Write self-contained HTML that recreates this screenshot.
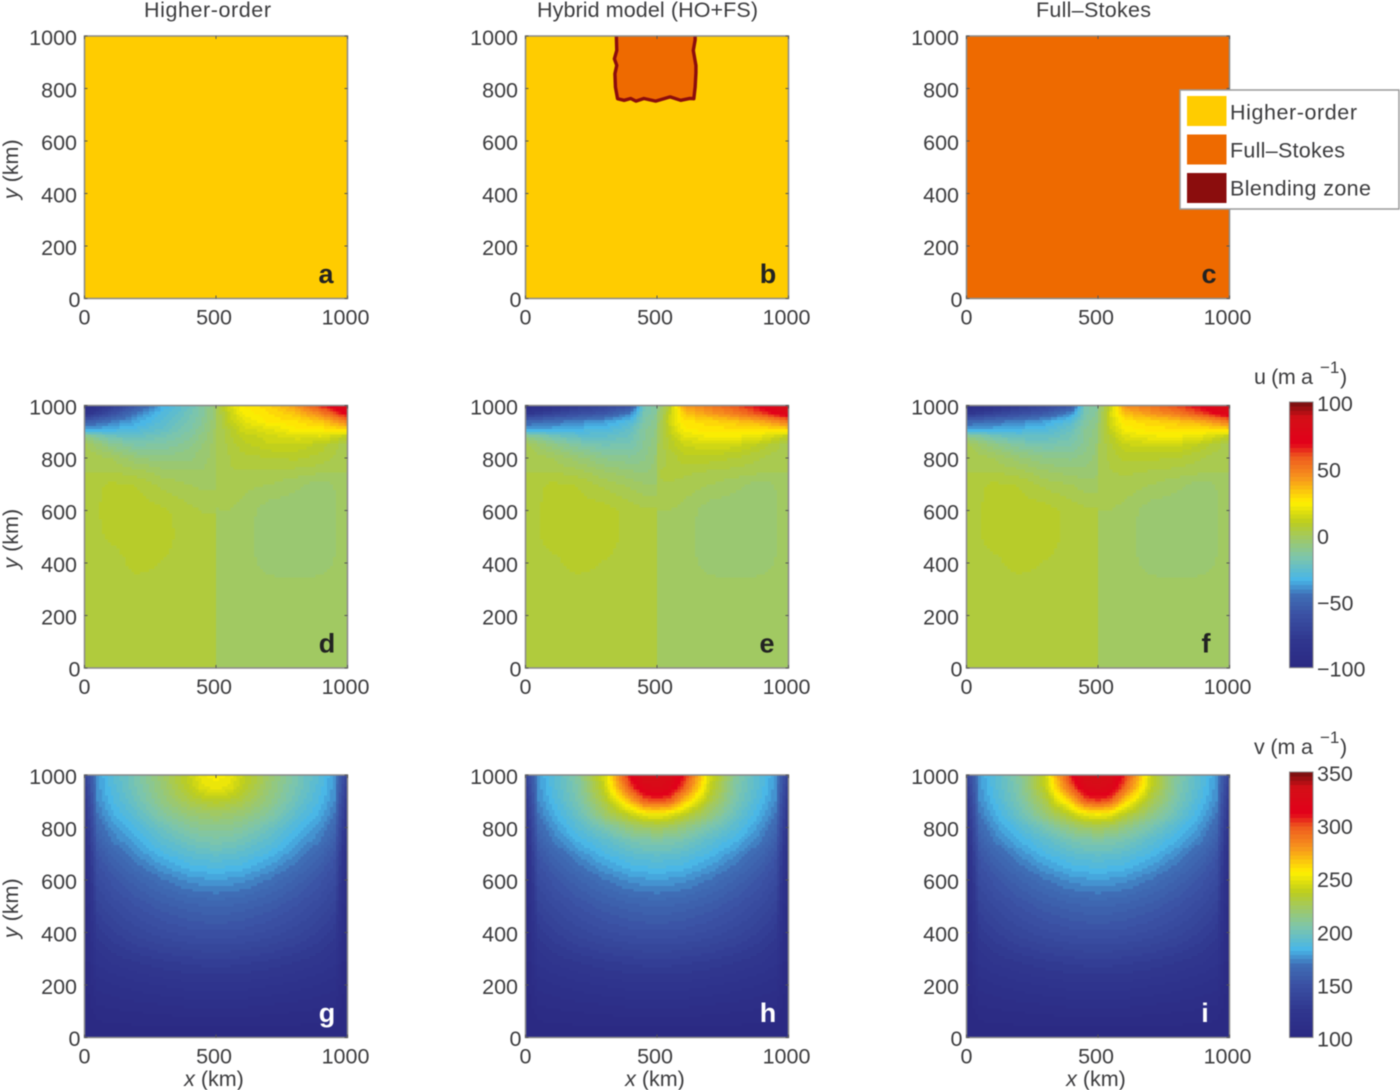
<!DOCTYPE html>
<html lang="en">
<head>
<meta charset="utf-8">
<title>Ice flow model comparison</title>
<style>
html,body{margin:0;padding:0;background:#fff;width:1400px;height:1090px;overflow:hidden}
svg{display:block;filter:blur(0.45px)}
text{font-family:"Liberation Sans",sans-serif;font-size:21.5px;fill:#3c3c3e}
</style>
</head>
<body>
<svg id="chart" xmlns="http://www.w3.org/2000/svg" width="1400" height="1090" viewBox="0 0 1400 1090"></svg>
<script>
/* ---------- axis data ---------- */
const xTicks = [0, 500, 1000];
const yTicks = [0, 200, 400, 600, 800, 1000];
const columnTitles = ["Higher-order", "Hybrid model (HO+FS)", "Full\u2013Stokes"];
const panelLetters = ["a", "b", "c", "d", "e", "f", "g", "h", "i"];
const uBarTicks = [100, 50, 0, -50, -100];
const vBarTicks = [350, 300, 250, 200, 150, 100];
const legendLabels = ["Higher-order", "Full\u2013Stokes", "Blending zone"];

/* ---------- colormap stops (position, colour) ---------- */
const cmapPositions = [0, 0.1, 0.2, 0.27, 0.33, 0.42, 0.5, 0.55, 0.625, 0.72, 0.8, 0.85, 0.95, 1];
const cmapColors = ["#2b2a83", "#30378f", "#3b52a4", "#3f6db5", "#48b6e8", "#7fc6a8", "#a5c95a", "#bccd1e", "#fff000", "#f7941d", "#ee5a1e", "#e2001a", "#d40f17", "#7f0f10"];

/* ---------- model-domain maps (km) ---------- */
const hybridFsBoundaryX = [345, 347, 338, 347, 340, 342, 350, 375, 400, 420, 450, 495, 550, 590, 625, 640, 645, 648, 648, 638, 645, 645];
const hybridFsBoundaryY = [1015, 945, 913, 888, 856, 805, 761, 755, 762, 752, 762, 752, 768, 755, 762, 761, 805, 860, 888, 945, 985, 1015];

/* ---------- u field grid (m/a) ---------- */
const uGridX = [0, 100, 200, 300, 400, 450, 495, 505, 550, 600, 700, 800, 900, 1000];
const uGridY = [1000, 970, 940, 910, 880, 850, 800, 750, 700, 600, 500, 400, 300, 200, 100, 0];
const uLowerRows = [
  [4,4,4,4,4,4,4,0,0,-1,-1,-1,-1,-1],
  [4,4,4,4,4,4,4,0,0,-1,-1,-1,-1,-1],
  [4,4,4,4,4,4,4,0,0,-1,-1,-1,-1,-1]
];
const uHigherOrder = [
  [-95,-78,-55,-34,-22,-14,-5,0,15,25,30,42,65,85],
  [-85,-62,-42,-30,-20,-13,-5,0,12,22,28,33,48,72],
  [-55,-44,-36,-27,-18,-12,-4,0,10,18,26,28,33,50],
  [-36,-34,-30,-24,-16,-10,-3,0,6,14,18,24,26,30],
  [-7,-20,-22,-19,-13,-8,-3,0,5,10,14,17,18,8],
  [1,-10,-16,-15,-10,-6,-2,0,4,8,12,12,8,1],
  [3,0,-6,-8,-7,-4,-2,1,3,5,6,7,5,0],
  [3,3,1,-2,-3,-3,-2,2,3,3,3,2,1,0],
  [4,7,6,2,0,-1,-1,0,2,1,0,-2,-5,-1],
  [4,8,8,7,4,3,3,0,0,-1,-5,-6,-6,-1],
  [4,7,8,8,4,4,4,0,0,-1,-6,-6,-6,-1],
  [4,4,8,6,4,4,4,0,0,-1,-5,-6,-5,-1],
  [4,4,4,4,4,4,4,0,0,-1,-1,-1,-1,-1]
];
const uHybrid = [
  [-95,-88,-78,-70,-60,-20,-14,-8,8,42,50,60,72,88],
  [-80,-70,-62,-56,-42,-18,-13,-6,12,32,42,50,62,78],
  [-50,-46,-42,-38,-30,-16,-11,-4,14,27,30,34,40,52],
  [-36,-35,-33,-31,-24,-13,-9,-2,12,24,27,27,27,30],
  [-8,-18,-24,-25,-21,-13,-8,-1,9,18,22,22,18,8],
  [1,-8,-15,-19,-18,-12,-7,0,7,13,15,14,8,1],
  [3,0,-5,-10,-12,-10,-6,1,4,8,8,6,3,0],
  [3,3,1,-3,-6,-7,-5,3,4,4,3,2,1,0],
  [4,7,6,2,-1,-3,-3,3,3,2,0,-2,-5,-1],
  [4,8,8,8,5,4,4,0,0,-1,-5,-6,-6,-1],
  [4,8,8,8,5,4,4,0,0,-1,-6,-6,-6,-1],
  [4,5,8,6,5,4,4,0,0,-1,-5,-6,-5,-1],
  [4,4,4,4,4,4,4,0,0,-1,-1,-1,-1,-1]
];
const uFullStokes = [
  [-95,-88,-78,-68,-56,-18,-13,-6,12,45,52,61,72,88],
  [-80,-70,-62,-54,-40,-17,-12,-5,16,34,43,50,62,78],
  [-50,-46,-42,-37,-28,-15,-10,-4,15,27,30,34,40,52],
  [-36,-35,-33,-30,-22,-12,-8,-2,12,23,27,27,27,30],
  [-8,-18,-24,-24,-19,-12,-7,-1,8,17,21,22,18,8],
  [1,-8,-15,-18,-16,-11,-6,0,6,12,14,14,8,1],
  [3,0,-5,-9,-10,-8,-5,1,4,7,7,6,3,0],
  [3,3,1,-3,-5,-5,-4,2,3,4,3,2,1,0],
  [4,7,6,2,0,-2,-2,2,2,2,0,-2,-5,-1],
  [4,8,8,8,5,4,4,0,0,-1,-5,-6,-6,-1],
  [4,8,8,8,5,4,4,0,0,-1,-6,-6,-6,-1],
  [4,5,8,6,5,4,4,0,0,-1,-5,-6,-5,-1],
  [4,4,4,4,4,4,4,0,0,-1,-1,-1,-1,-1]
];

/* ---------- v field grid (m/a) ---------- */
const vGridX = [0, 50, 100, 200, 300, 400, 450, 500, 550, 600, 700, 800, 900, 950, 1000];
const vGridY = [1000, 950, 900, 850, 800, 750, 700, 600, 500, 400, 300, 200, 100, 0];
const vLowerRows = [
  [110,153,163,175,185,192,194,195,194,192,185,175,163,153,110],
  [106,145,152,162,170,176,177,178,177,176,170,162,152,145,106],
  [104,137,143,151,157,161,162,163,162,161,157,151,143,137,104],
  [103,129,134,141,146,149,150,150,150,149,146,141,134,129,103],
  [102,121,125,129,132,134,135,135,135,134,132,129,125,121,102],
  [101,113,115,118,120,122,122,122,122,122,120,118,115,113,101],
  [100,106,107,108,109,110,110,110,110,110,109,108,107,106,100],
  [100,100,100,100,100,100,100,100,100,100,100,100,100,100,100]
];
const vHigherOrder = [
  [135,178,188,204,221,240,252,255,252,240,221,204,188,178,135],
  [130,176,187,202,219,237,247,250,247,237,219,202,187,176,130],
  [125,174,184,199,215,228,232,235,232,228,215,199,184,174,125],
  [120,170,180,193,208,218,220,222,220,218,208,193,180,170,120],
  [116,165,175,187,199,208,211,212,211,208,199,187,175,165,116],
  [113,160,170,181,192,200,203,204,203,200,192,181,170,160,113]
];
const vHybrid = [
  [135,178,188,208,245,315,335,335,330,312,245,208,188,178,135],
  [130,176,187,206,240,300,322,326,322,298,240,206,187,176,130],
  [125,174,184,203,230,270,295,300,295,268,230,203,184,174,125],
  [120,170,180,197,220,240,250,252,248,238,218,197,180,170,120],
  [116,165,175,190,203,218,222,224,222,216,203,190,175,165,116],
  [113,160,170,183,192,202,205,206,205,202,192,183,170,160,113]
];
const vFullStokes = [
  [135,178,188,208,242,312,335,337,332,308,242,208,188,178,135],
  [130,176,187,206,238,296,323,328,323,294,238,206,187,176,130],
  [125,174,184,203,228,266,295,302,295,264,228,203,184,174,125],
  [120,170,180,197,218,238,250,253,249,236,216,197,180,170,120],
  [116,165,175,189,202,217,222,224,222,215,202,189,175,165,116],
  [113,160,170,182,192,202,205,206,205,202,192,182,170,160,113]
];

/* ---------- layout ---------- */
const NS = "http://www.w3.org/2000/svg";
const svg = document.getElementById("chart");
const colLeft = [84.5, 525.5, 966.5];
const rowTop = [36, 405.5, 775];
const panelW = 263, panelH = 262.5;
const ORANGE = "#ee6a00", YELLOW = "#ffcc00", DARKRED = "#8b0d0d";
const letterCenterX = [326, 768, 1209, 327, 767, 1206, 327, 768, 1205];

function xAxis(col, km) { return colLeft[col] + km / 1000 * panelW; }
function yAxis(row, km) { return rowTop[row] + panelH - km / 1000 * panelH; }
function hex(c) { return [1, 3, 5].map(i => parseInt(c.substr(i, 2), 16)); }
function colormap(t) {
  t = Math.max(0, Math.min(1, t));
  t = Math.floor(t * 63.999) / 63;
  let i = 0;
  while (i < cmapPositions.length - 2 && t > cmapPositions[i + 1]) i++;
  const f = (t - cmapPositions[i]) / (cmapPositions[i + 1] - cmapPositions[i]);
  const a = hex(cmapColors[i]), b = hex(cmapColors[i + 1]);
  return "rgb(" + a.map((v, k) => Math.round(v + (b[k] - v) * Math.min(1, f))).join(",") + ")";
}
function segment(grid, v) {
  /* grid may be ascending or descending */
  let i = 0;
  const asc = grid[0] < grid[grid.length - 1];
  while (i < grid.length - 2 && (asc ? v > grid[i + 1] : v < grid[i + 1])) i++;
  return [i, (v - grid[i]) / (grid[i + 1] - grid[i])];
}
function sampleField(field, gridX, gridY, x, y) {
  const [c, fx] = segment(gridX, x);
  const [r, fy] = segment(gridY, y);
  const top = field[r][c] + (field[r][c + 1] - field[r][c]) * fx;
  const bot = field[r + 1][c] + (field[r + 1][c + 1] - field[r + 1][c]) * fx;
  return top + (bot - top) * fy;
}
function makeGroup(parent) {
  const g = document.createElementNS(NS, "g");
  parent.appendChild(g);
  return g;
}
function makeRect(parent, x, y, w, h, fill) {
  const r = document.createElementNS(NS, "rect");
  r.setAttribute("x", x);
  r.setAttribute("y", y);
  r.setAttribute("width", w);
  r.setAttribute("height", h);
  r.setAttribute("fill", fill);
  parent.appendChild(r);
  return r;
}
function makeText(parent, x, y, str, anchor) {
  const t = document.createElementNS(NS, "text");
  t.setAttribute("x", x);
  t.setAttribute("y", y);
  t.setAttribute("text-anchor", anchor || "start");
  t.textContent = str;
  parent.appendChild(t);
  return t;
}
function makeLine(parent, x1, y1, x2, y2, color, w) {
  const l = document.createElementNS(NS, "line");
  l.setAttribute("x1", x1);
  l.setAttribute("y1", y1);
  l.setAttribute("x2", x2);
  l.setAttribute("y2", y2);
  l.setAttribute("stroke", color);
  l.setAttribute("stroke-width", w);
  parent.appendChild(l);
  return l;
}
function fmt(v) { return String(v).replace("-", "\u2212"); }

/* ---------- heatmaps ---------- */
const CELLS = 90;
function drawHeatmap(row, col, field, gridX, gridY, lo, hi) {
  const g = makeGroup(svg);
  
  
  g.setAttribute("shape-rendering", "crispEdges");
  for (let j = 0; j < CELLS; j++) {
    for (let i = 0; i < CELLS; i++) {
      const kmX = (i + 0.5) / CELLS * 1000, kmY = 1000 - (j + 0.5) / CELLS * 1000;
      const value = sampleField(field, gridX, gridY, kmX, kmY);
      const x0 = xAxis(col, i / CELLS * 1000), x1 = xAxis(col, (i + 1) / CELLS * 1000);
      const y0 = yAxis(row, 1000 - j / CELLS * 1000), y1 = yAxis(row, 1000 - (j + 1) / CELLS * 1000);
      const cell = makeRect(g, x0, y0, x1 - x0 + 0.4, y1 - y0 + 0.4, colormap((value - lo) / (hi - lo)));
      
      
    }
  }
}
const uFields = [uHigherOrder, uHybrid, uFullStokes];
const vFields = [vHigherOrder, vHybrid, vFullStokes];
uFields.forEach((f, col) => drawHeatmap(1, col, f.concat(uLowerRows), uGridX, uGridY, -100, 100));
vFields.forEach((f, col) => drawHeatmap(2, col, f.concat(vLowerRows), vGridX, vGridY, 100, 350));

/* ---------- model domain panels ---------- */
const domainA = makeRect(svg, xAxis(0, 0), yAxis(0, 1000), panelW, panelH, YELLOW);


const domainB = makeRect(svg, xAxis(1, 0), yAxis(0, 1000), panelW, panelH, YELLOW);


const domainC = makeRect(svg, xAxis(2, 0), yAxis(0, 1000), panelW, panelH, ORANGE);


const clip = document.createElementNS(NS, "clipPath");
clip.setAttribute("id", "panel-b-clip");
makeRect(clip, xAxis(1, 0), yAxis(0, 1000), panelW, panelH, "#000");
svg.appendChild(clip);
const fsPatch = document.createElementNS(NS, "polygon");
fsPatch.setAttribute("points", hybridFsBoundaryX.map((x, i) => xAxis(1, x) + "," + yAxis(0, hybridFsBoundaryY[i])).join(" "));
fsPatch.setAttribute("fill", ORANGE);
fsPatch.setAttribute("stroke", DARKRED);
fsPatch.setAttribute("stroke-width", "3.4");
fsPatch.setAttribute("stroke-linejoin", "round");
fsPatch.setAttribute("clip-path", "url(#panel-b-clip)");


svg.appendChild(fsPatch);

/* ---------- axes ---------- */
for (let row = 0; row < 3; row++) {
  for (let col = 0; col < 3; col++) {
    const letter = panelLetters[row * 3 + col];
    const ax = makeGroup(svg);
    
    
    const frame = makeRect(ax, colLeft[col], rowTop[row], panelW, panelH, "none");
    frame.setAttribute("stroke", "#8a8a8a");
    frame.setAttribute("stroke-width", "1.5");
    
    
    xTicks.forEach(v => {
      const px = xAxis(col, v);
      const tickLow = makeLine(ax, px, rowTop[row] + panelH, px, rowTop[row] + panelH - 3, "#555", 1);
      
      
      const tickHigh = makeLine(ax, px, rowTop[row], px, rowTop[row] + 3, "#555", 1);
      
      
      const off = v === 0 ? 0 : -2;
      const lab = makeText(ax, px + off, rowTop[row] + panelH + 26, fmt(v), "middle");
      
      
    });
    yTicks.forEach(v => {
      const py = yAxis(row, v);
      const tickL = makeLine(ax, colLeft[col], py, colLeft[col] + 3, py, "#555", 1);
      
      
      const tickR = makeLine(ax, colLeft[col] + panelW, py, colLeft[col] + panelW - 3, py, "#555", 1);
      
      
      const lab = makeText(ax, colLeft[col] - (v === 0 ? 4 : 7.5), py + (v === 0 ? 8.5 : 9), fmt(v), "end");
      
      
    });
    if (col === 0) {
      const cy = rowTop[row] + panelH / 2 + 2;
      const yTitle = makeText(ax, 0, 0, "", "middle");
      yTitle.setAttribute("transform", "translate(18," + cy + ") rotate(-90)");
      
      
      const yi = document.createElementNS(NS, "tspan");
      yi.setAttribute("font-style", "italic");
      yi.textContent = "y";
      yTitle.appendChild(yi);
      yTitle.appendChild(document.createTextNode(" (km)"));
    }
    if (row === 2) {
      const xTitle = makeText(ax, colLeft[col] + panelW / 2 - 2, 1086, "", "middle");
      
      
      const xi = document.createElementNS(NS, "tspan");
      xi.setAttribute("font-style", "italic");
      xi.textContent = "x";
      xTitle.appendChild(xi);
      xTitle.appendChild(document.createTextNode(" (km)"));
    }
    const mark = makeText(ax, letterCenterX[row * 3 + col], rowTop[row] + panelH - 15.5, letter, "middle");
    mark.setAttribute("style", "font-size:27px;font-weight:bold;fill:" + (row === 2 ? "#fff" : "#222"));
    
    
  }
}

/* ---------- column titles ---------- */
const titleCenters = [207.5, 647.5, 1093.5];
const titleWidths = [127, 221, 115];
columnTitles.forEach((s, i) => {
  const t = makeText(svg, titleCenters[i], 17, s, "middle");
  t.setAttribute("textLength", titleWidths[i]);
  
  
});

/* ---------- legend ---------- */
const legend = makeGroup(svg);


const legendBox = makeRect(legend, 1180, 90, 219, 119, "#fff");
legendBox.setAttribute("stroke", "#999");
legendBox.setAttribute("stroke-width", "1.5");


const legendColors = [YELLOW, ORANGE, DARKRED];
const legendWidths = [127, 115, 141];
legendLabels.forEach((s, i) => {
  const swatch = makeRect(legend, 1187, 96 + i * 38.5, 39.5, 30, legendColors[i]);
  
  
  const t = makeText(legend, 1230, 119.5 + i * 38, s);
  t.setAttribute("textLength", legendWidths[i]);
  
  
});

/* ---------- colourbars ---------- */
function drawColorbar(name, top, bottom, ticks, lo, hi, symbol, titleY) {
  const g = makeGroup(svg);
  
  
  const barY = v => bottom - (v - lo) / (hi - lo) * (bottom - top);
  const bands = 64;
  const inner = makeGroup(g);
  inner.setAttribute("shape-rendering", "crispEdges");
  for (let k = 0; k < bands; k++) {
    const v0 = lo + (hi - lo) * k / bands, v1 = lo + (hi - lo) * (k + 1) / bands;
    const band = makeRect(inner, 1289.5, barY(v1), 23.5, barY(v0) - barY(v1) + 0.5, colormap((k + 0.5) / bands));
    
    
  }
  const frame = makeRect(g, 1289.5, top, 23.5, bottom - top, "none");
  frame.setAttribute("stroke", "#8a8a8a");
  frame.setAttribute("stroke-width", "1");
  
  
  ticks.forEach(v => {
    const t = makeText(g, 1317, barY(v) + 9, fmt(v));
    
    
  });
  const title = makeText(g, 1254, titleY, symbol + " (m a");
  title.setAttribute("textLength", 59);
  
  
  const sup = makeText(g, 1320, titleY - 11, "\u22121");
  sup.setAttribute("style", "font-size:17px");
  
  
  const close = makeText(g, 1340, titleY, ")");
  
  
}
drawColorbar("u-colorbar", 402, 667.7, uBarTicks, -100, 100, "u", 384);
drawColorbar("v-colorbar", 772, 1037.5, vBarTicks, 100, 350, "v", 754);
</script>
</body>
</html>
